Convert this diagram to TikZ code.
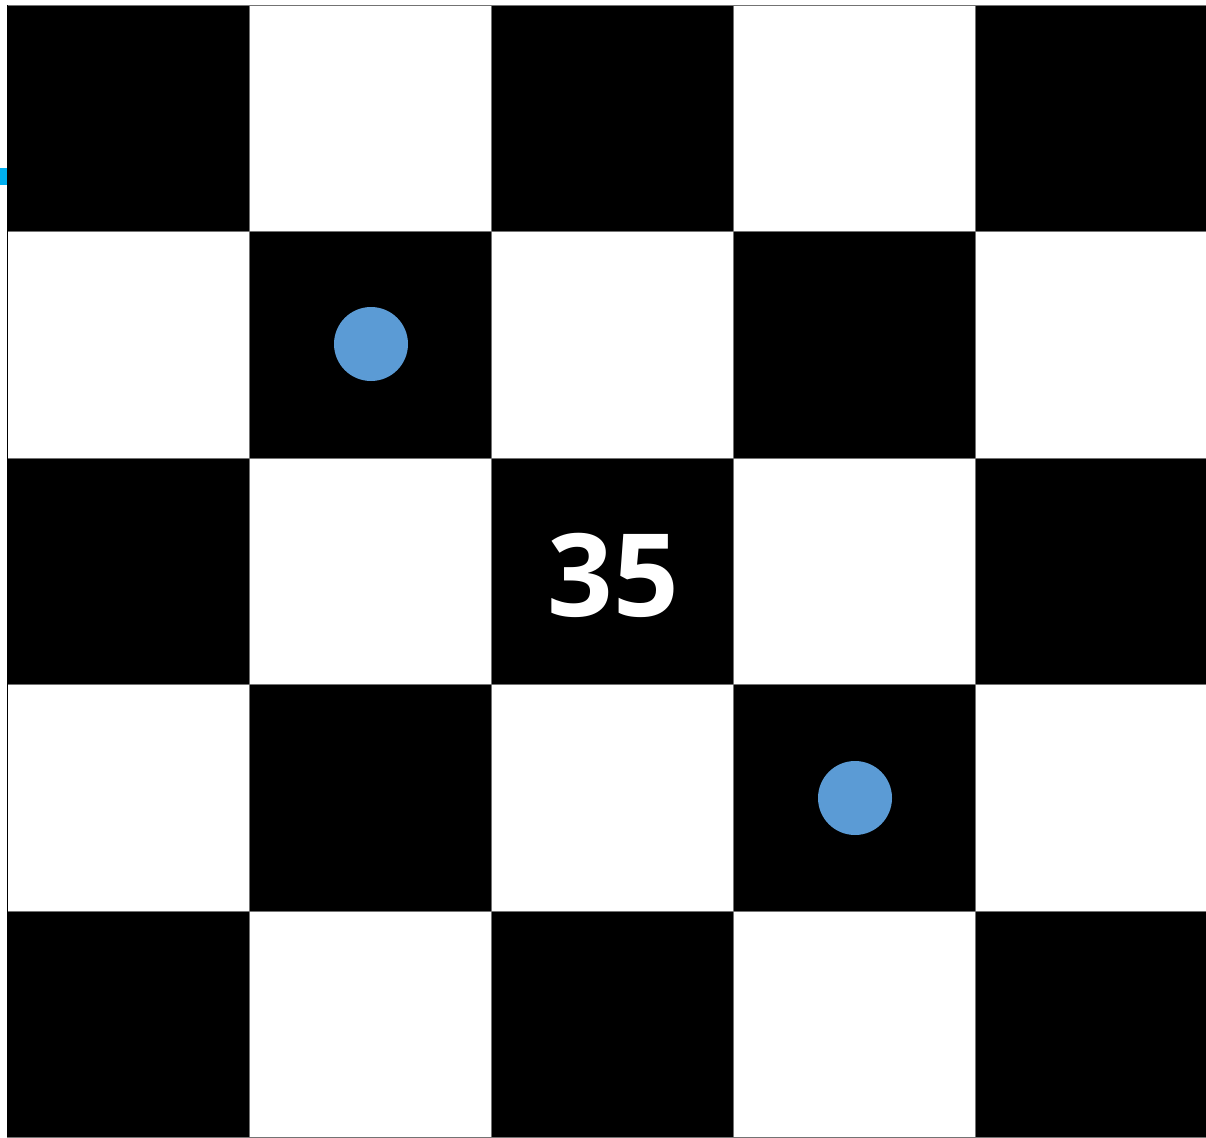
\documentclass[tikz,border=0pt]{standalone}
\usepackage{fontspec}
\usepackage{tikz}
\usetikzlibrary{positioning}
\newfontfamily\boardfont{Open Sans}
\definecolor{markblue}{HTML}{5B9BD5}
\definecolor{edgecyan}{HTML}{00B0F0}

\begin{document}
\begin{tikzpicture}[
			x=1pt, y=-1pt,
			darksq/.style={fill=black, draw=black!55, line width=0.6pt},
			lightsq/.style={fill=white, draw=black!55, line width=0.6pt},
			piece/.style={
					circle,
					fill=markblue,
					minimum size=74pt,
					inner sep=0pt
				}
		]
		\clip (0,0) rectangle (1206,1137);
		\fill[white] (0,0) rectangle (1206,1137);

		% board cells, 242 x 226.5 each
		\foreach \col in {0,...,4} {
				\foreach \row in {0,...,4} {
						\pgfmathtruncatemacro{\parity}{mod(\col+\row,2)}
						\ifnum\parity=0
							\draw[darksq] ({7+242*\col},{5+226.5*\row}) rectangle ++(242,226.5);
						\else
							\draw[lightsq] ({7+242*\col},{5+226.5*\row}) rectangle ++(242,226.5);
						\fi
					}
			}

		% left border of the board
		\coordinate (bl) at (7.5,5);
		\coordinate (br) at (7.5,1137);
		\draw[black, line width=1.5pt] (bl) -- (br);

		% small cut-off mark on the left edge
		\fill[edgecyan] (0,168) rectangle (6.5,185);

		\node[piece] (p1) at (371,344) {};
		\node[piece] (p2) at (855,798) {};

		\node[text=white, inner sep=0pt, font=\boardfont\bfseries\fontsize{115}{115}\selectfont]
		(num) at (613,575) {35};
	\end{tikzpicture}
\end{document}
